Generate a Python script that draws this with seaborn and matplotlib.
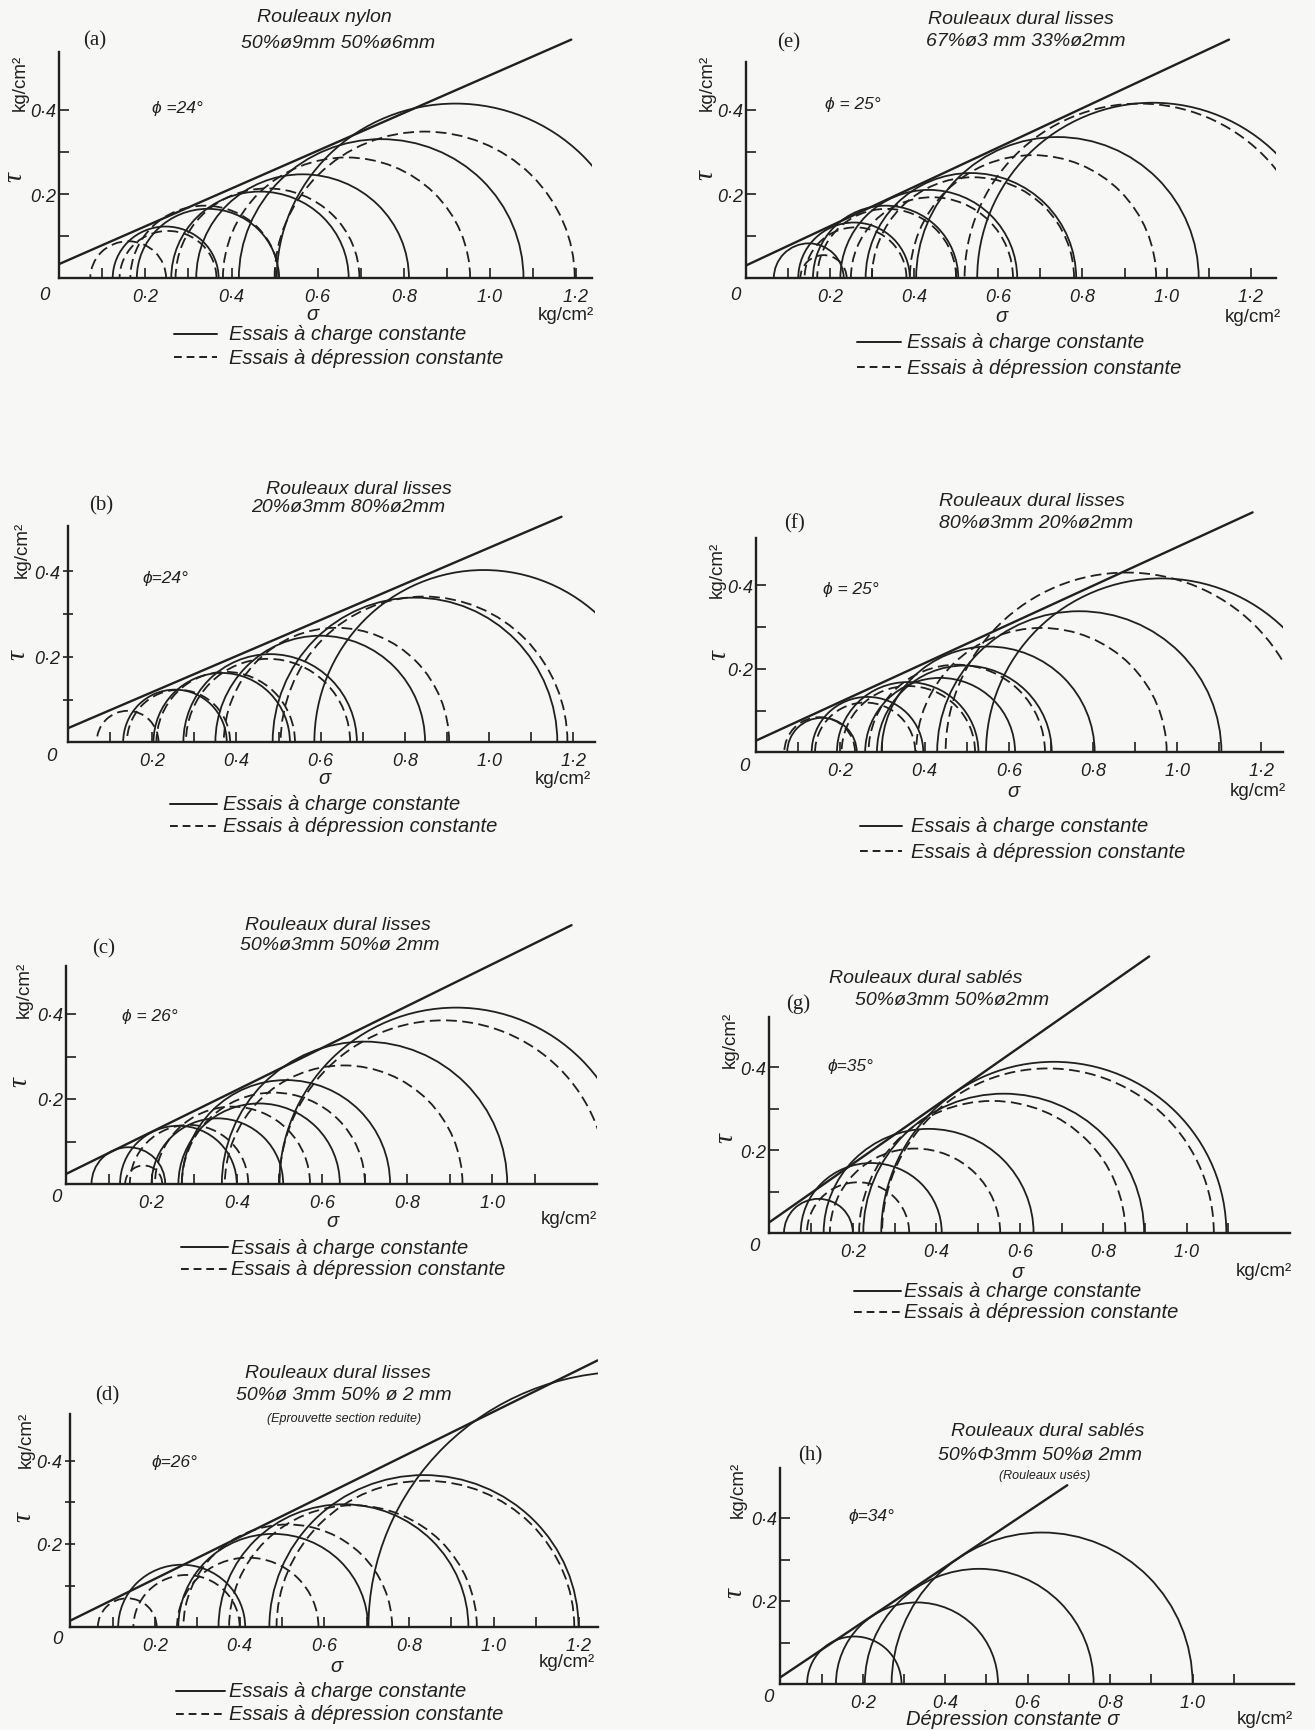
import matplotlib
matplotlib.use("Agg")
import matplotlib.pyplot as plt
from matplotlib.patches import Arc
from matplotlib.lines import Line2D
import pandas as pd
import seaborn as sns

# Mohr circles: one (sigma3, sigma1) pair per circle, kg/cm2
a_solid = [(0.124, 0.37), (0.18, 0.51), (0.26, 0.672), (0.318, 0.812), (0.417, 1.078), (0.505, 1.335)]
a_dashed = [(0.072, 0.248), (0.14, 0.365), (0.165, 0.51), (0.27, 0.697), (0.38, 0.954), (0.50, 1.197)]
a_envelope = [(0.0, 0.034), (1.189, 0.567)]

b_solid = [(0.131, 0.377), (0.203, 0.527), (0.274, 0.686), (0.35, 0.848), (0.486, 1.162), (0.585, 1.39)]
b_dashed = [(0.068, 0.215), (0.14, 0.385), (0.21, 0.539), (0.28, 0.67), (0.37, 0.905), (0.505, 1.186)]
b_envelope = [(0.0, 0.033), (1.172, 0.527)]

c_solid = [(0.059, 0.232), (0.126, 0.40), (0.20, 0.509), (0.263, 0.642), (0.271, 0.76), (0.365, 1.035), (0.50, 1.33)]
c_dashed = [(0.138, 0.225), (0.149, 0.427), (0.208, 0.572), (0.271, 0.701), (0.372, 0.93), (0.50, 1.27)]
c_envelope = [(0.0, 0.024), (1.186, 0.609)]

d_solid = [(0.113, 0.413), (0.255, 0.703), (0.35, 0.94), (0.47, 1.20), (0.704, 1.93)]
d_dashed = [(0.065, 0.204), (0.149, 0.40), (0.252, 0.586), (0.267, 0.76), (0.375, 0.96), (0.487, 1.19)]
d_envelope = [(0.0, 0.016), (1.245, 0.64)]

e_solid = [(0.067, 0.233), (0.125, 0.39), (0.16, 0.505), (0.225, 0.645), (0.285, 0.785), (0.405, 1.076), (0.55, 1.384)]
e_dashed = [(0.13, 0.24), (0.14, 0.382), (0.17, 0.50), (0.25, 0.635), (0.30, 0.78), (0.39, 0.975), (0.52, 1.35)]
e_envelope = [(0.0, 0.030), (1.148, 0.567)]

f_solid = [(0.074, 0.239), (0.132, 0.397), (0.192, 0.528), (0.259, 0.615), (0.287, 0.702), (0.298, 0.804), (0.43, 1.105), (0.546, 1.378)]
f_dashed = [(0.067, 0.235), (0.14, 0.378), (0.203, 0.52), (0.267, 0.686), (0.38, 0.975), (0.45, 1.31)]
f_envelope = [(0.0, 0.028), (1.179, 0.574)]

g_solid = [(0.035, 0.20), (0.075, 0.413), (0.13, 0.633), (0.225, 0.898), (0.268, 1.095)]
g_dashed = [(0.09, 0.335), (0.145, 0.553), (0.215, 0.853), (0.27, 1.065)]
g_envelope = [(0.0, 0.026), (0.91, 0.668)]

h_solid = [(0.065, 0.294), (0.135, 0.528), (0.205, 0.76), (0.27, 1.0)]
h_dashed = []
h_envelope = [(0.0, 0.016), (0.696, 0.479)]

titles = {
    "a": ["Rouleaux nylon", "50%ø9mm 50%ø6mm", None, "ϕ =24°"],
    "b": ["Rouleaux dural lisses", "20%ø3mm 80%ø2mm", None, "ϕ=24°"],
    "c": ["Rouleaux dural lisses", "50%ø3mm 50%ø 2mm", None, "ϕ = 26°"],
    "d": ["Rouleaux dural lisses", "50%ø 3mm 50% ø 2 mm", "(Eprouvette section reduite)", "ϕ=26°"],
    "e": ["Rouleaux dural lisses", "67%ø3 mm 33%ø2mm", None, "ϕ = 25°"],
    "f": ["Rouleaux dural lisses", "80%ø3mm 20%ø2mm", None, "ϕ = 25°"],
    "g": ["Rouleaux dural sablés", "50%ø3mm 50%ø2mm", None, "ϕ=35°"],
    "h": ["Rouleaux dural sablés", "50%Φ3mm 50%ø 2mm", "(Rouleaux usés)", "ϕ=34°"],
}

x_ticks = [0.1, 0.2, 0.3, 0.4, 0.5, 0.6, 0.7, 0.8, 0.9, 1.0, 1.1, 1.2]
x_ticklabels = ["", "0·2", "", "0·4", "", "0·6", "", "0·8", "", "1·0", "", "1·2"]
y_ticks = [0.1, 0.2, 0.3, 0.4]
y_ticklabels = ["", "0·2", "", "0·4"]
legend_solid = "Essais à charge constante"
legend_dashed = "Essais à dépression constante"

PANELS = {k: dict(solid=globals()[k + "_solid"], dashed=globals()[k + "_dashed"],
                  line=globals()[k + "_envelope"]) for k in "abcdefgh"}

# where each plate sits on the page (pixels), measured on the scan
LAYOUT = {
    "a": dict(origin=(59.3, 279.3), sx=430.6, sy=421, xend=1.237, ytop=0.538, nt=12, ydir="in",
              title=(324, 18), title2=(338, 43), sub=None, tag=(95, 41), phi=(152, 108),
              kg=(20, 83), tau=(15, 177), zero=(44, 295), sigma=(312, 315), unit=(566, 315),
              legend=(174, 217, 229, 335, 358)),
    "e": dict(origin=(745.6, 279.3), sx=421.1, sy=421, xend=1.26, ytop=0.513, nt=12, ydir="in",
              title=(1021, 20), title2=(1026, 42), sub=None, tag=(789, 43), phi=(825, 105),
              kg=(707, 83), tau=(706, 175), zero=(735, 295), sigma=(1001, 317), unit=(1253, 318),
              legend=(857, 901, 907, 343, 368)),
    "b": dict(origin=(68, 743.3), sx=421.1, sy=428, xend=1.252, ytop=0.505, nt=12, ydir="inout",
              title=(359, 489), title2=(348, 508), sub=None, tag=(101, 506), phi=(142, 578),
              kg=(22, 550), tau=(18, 655), zero=(51, 757), sigma=(324, 778), unit=(563, 780),
              legend=(170, 217, 223, 805, 827)),
    "f": dict(origin=(756.1, 753.3), sx=421.1, sy=418, xend=1.252, ytop=0.512, nt=12, ydir="in",
              title=(1032, 501), title2=(1036, 524), sub=None, tag=(795, 524), phi=(823, 590),
              kg=(717, 570), tau=(719, 655), zero=(744, 767), sigma=(1013, 792), unit=(1258, 792),
              legend=(860, 902, 911, 827, 852)),
    "c": dict(origin=(66.4, 1185), sx=425.9, sy=425, xend=1.246, ytop=0.514, nt=11, ydir="in",
              title=(338, 926), title2=(340, 946), sub=None, tag=(104, 949), phi=(122, 1017),
              kg=(24, 990), tau=(20, 1082), zero=(56, 1198), sigma=(332, 1222), unit=(569, 1220),
              legend=(181, 228, 231, 1248, 1270)),
    "g": dict(origin=(769.4, 1234), sx=417.3, sy=414, xend=1.248, ytop=0.521, nt=11, ydir="in",
              title=(926, 979), title2=(952, 1001), sub=None, tag=(798, 1004), phi=(827, 1067),
              kg=(730, 1040), tau=(726, 1138), zero=(754, 1247), sigma=(1017, 1272), unit=(1264, 1272),
              legend=(854, 901, 904, 1292, 1313)),
    "d": dict(origin=(70.3, 1628.3), sx=423.5, sy=417, xend=1.245, ytop=0.512, nt=12, ydir="inout",
              title=(338, 1374), title2=(344, 1396), sub=(344, 1419), tag=(107, 1396), phi=(151, 1463),
              kg=(26, 1440), tau=(24, 1517), zero=(57, 1640), sigma=(336, 1667), unit=(567, 1663),
              legend=(176, 225, 229, 1692, 1715)),
    "h": dict(origin=(780.3, 1685), sx=412.3, sy=415, xend=1.245, ytop=0.52, nt=11, ydir="in",
              title=(1048, 1432), title2=(1040, 1456), sub=(1045, 1476), tag=(810, 1456), phi=(848, 1517),
              kg=(738, 1490), tau=(735, 1593), zero=(768, 1698), sigma=(1013, 1720), unit=(1265, 1720),
              legend=None),
}

INK = "#202020"
PAPER = "#f7f7f5"
W, H = 1315, 1731
YMAX = 0.72

sns.set_theme(style="white", rc={"axes.facecolor": "none", "figure.facecolor": PAPER})
plt.rcParams["font.family"] = ["Liberation Sans", "DejaVu Sans"]
plt.rcParams["font.style"] = "italic"

fig = plt.figure(figsize=(W / 100, H / 100), dpi=100)


def put(x, y, s, **kw):
    kw.setdefault("ha", "center")
    kw.setdefault("va", "center")
    fig.text(x / W, 1 - y / H, s, color=INK, **kw)


for key in "abcdefgh":
    L, P = LAYOUT[key], PANELS[key]
    x0, y0 = L["origin"]
    ax = fig.add_axes([x0 / W, 1 - y0 / H, L["xend"] * L["sx"] / W, YMAX * L["sy"] / H])

    for style, arcs in (("-", P["solid"]), ((0, (6, 3)), P["dashed"])):
        for lo, hi in arcs:
            d = hi - lo
            ax.add_patch(Arc(((lo + hi) / 2, 0), d, d, theta1=0, theta2=180,
                             color=INK, lw=1.3, linestyle=style))

    env = pd.DataFrame(P["line"], columns=["sigma", "tau"])
    sns.lineplot(data=env, x="sigma", y="tau", ax=ax, color=INK, linewidth=1.7, sort=False)
    ax.set(xlabel="", ylabel="", xlim=(0, L["xend"]), ylim=(0, YMAX))

    sns.despine(ax=ax)
    for sp in ("left", "bottom"):
        ax.spines[sp].set_color(INK)
        ax.spines[sp].set_linewidth(1.7)
    ax.spines["left"].set_bounds(0, L["ytop"])

    n = L["nt"]
    xl = x_ticklabels[:n] if n == 12 else x_ticklabels[:n - 1] + [""]
    ax.set_xticks(x_ticks[:n], xl)
    ax.set_yticks(y_ticks, y_ticklabels)
    ax.tick_params(bottom=True, left=True, length=7, width=1.2, colors=INK, labelsize=13)
    ax.tick_params(axis="x", direction="in", pad=7)
    ax.tick_params(axis="y", direction=L["ydir"], pad=2)

    t1, t2, sub, phi = titles[key]
    put(*L["title"], t1, fontsize=14)
    put(*L["title2"], t2, fontsize=14)
    if sub:
        put(*L["sub"], sub, fontsize=9)
    put(*L["tag"], f"({key})", fontsize=15, family=["Liberation Serif", "DejaVu Serif"], style="normal")
    put(*L["phi"], phi, fontsize=12.5, ha="left")
    put(*L["kg"], "kg/cm²", fontsize=13.5, rotation=90, style="normal")
    put(*L["tau"], "τ", fontsize=20, rotation=90, family=["Liberation Serif", "DejaVu Serif"])
    put(*L["zero"], "0", fontsize=13.5)
    put(*L["sigma"], "Dépression constante σ" if key == "h" else "σ", fontsize=14.5)
    put(*L["unit"], "kg/cm²", fontsize=13.5, style="normal")

    if L["legend"]:
        xa, xb, xt, ys, yd = L["legend"]
        for yy, ls in ((ys, "-"), (yd, (0, (4, 2.5)))):
            fig.add_artist(Line2D([xa / W, xb / W], [1 - yy / H] * 2, color=INK, lw=1.4, linestyle=ls))
        put(xt, ys, legend_solid, ha="left", fontsize=14.5)
        put(xt, yd, legend_dashed, ha="left", fontsize=14.5)

fig.savefig("out.png", dpi=100, facecolor=PAPER)
